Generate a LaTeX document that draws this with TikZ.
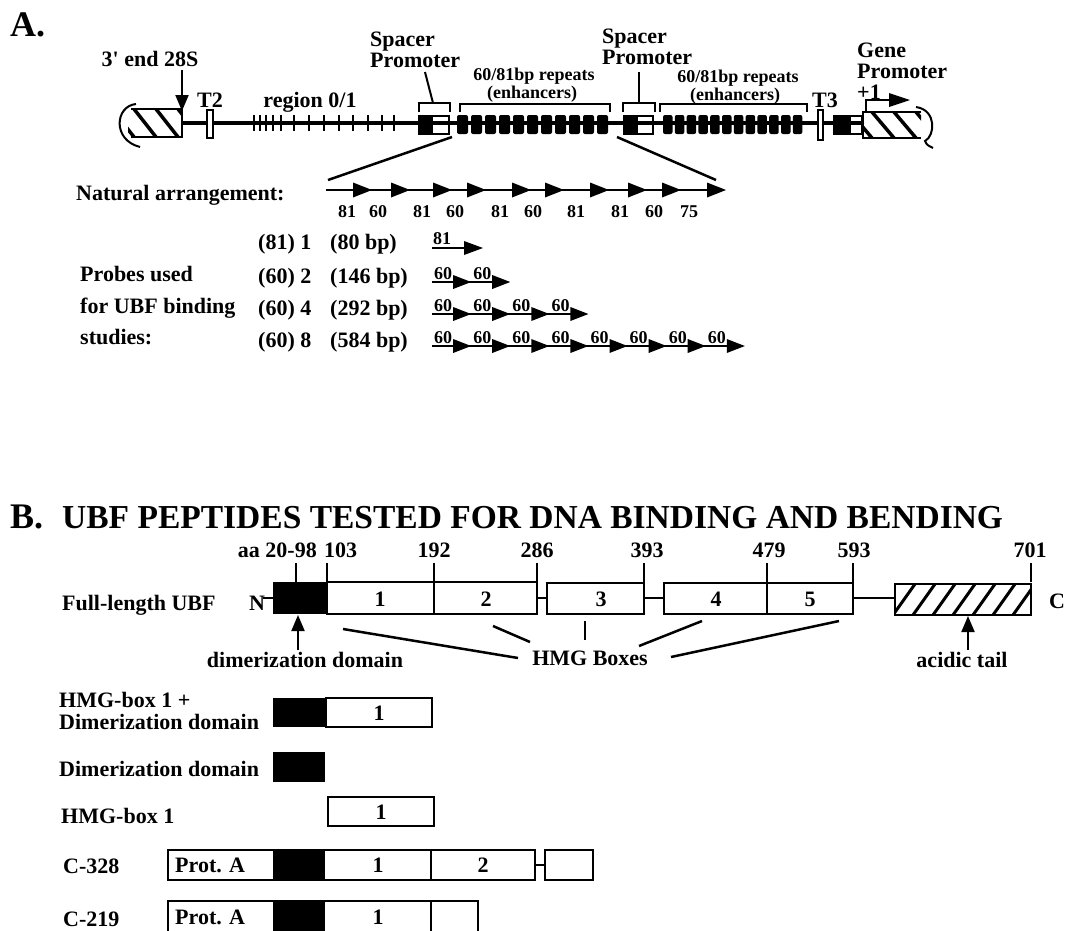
\documentclass[tikz,border=0pt]{standalone}
\usepackage{fontspec}
\setmainfont{Liberation Serif}
\usetikzlibrary{arrows.meta}
\tikzset{
  lbl/.style={inner sep=0pt, font=\fontsize{22}{24}\selectfont\bfseries},
  sml/.style={inner sep=0pt, font=\fontsize{18}{20}\selectfont\bfseries},
  num/.style={inner sep=0pt, font=\fontsize{18}{20}\selectfont\bfseries},
  ttl/.style={inner sep=0pt, font=\fontsize{33.5}{36}\selectfont\bfseries},
  big/.style={inner sep=0pt, font=\fontsize{36}{38}\selectfont\bfseries},
  ln/.style={line width=2.5pt},
  thin/.style={line width=2pt},
  dom/.style={draw, line width=2.5pt, fill=white},
  blk/.style={fill=black},
  stripe/.style={line width=3.5pt},
  ptr/.style={line width=2pt, -{Triangle[length=16pt,width=13pt]}},
}
\begin{document}
\begin{tikzpicture}[x=1pt,y=-1pt]
\useasboundingbox[fill=white] (0,0) rectangle (1065,930);

%================ A =================
\node[big, anchor=base west] (Alab) at (10,36) {A.};

% main line
\coordinate (mlL) at (182,123);
\coordinate (mlR) at (863,123);
\draw[line width=4pt] (mlL) -- (mlR);

% 3' end 28S hatched box
\begin{scope}
  \clip (128,109) rectangle (182,137);
  \foreach \s in {112,134,156,178} \draw[stripe] (\s,109) -- (\s+22,137);
\end{scope}
\draw[ln] (131,109) -- (182,109) -- (182,137) -- (131,137);
\draw[thin] (136,104) .. controls (115,106) and (112,140) .. (140,147);
\node[lbl, anchor=base] (end28) at (150,66) {3\textquotesingle\ end 28S};
\coordinate (end28t) at (182,70);
\coordinate (end28h) at (182,111);
\draw[ptr] (end28t) -- (end28h);

% T2
\draw[thin, fill=white] (207,110) rectangle (213,138);
\node[lbl, anchor=base] (T2) at (210,107) {T2};

% region 0/1
\node[lbl, anchor=base] (reg) at (310,107) {region 0/1};
\foreach \x in {254,260,266,273,281,294,309,324,339,353,368,382,394}
  \draw[line width=2.8pt] (\x,115) -- (\x,131);

% spacer promoter 1
\fill (419,116) rectangle (433,134);
\draw[ln] (419,116) rectangle (449,134);
\draw[thin] (419,112) -- (419,103) -- (450,103) -- (450,112);
\node[lbl, anchor=base west] (sp1a) at (370,46) {Spacer};
\node[lbl, anchor=base west] (sp1b) at (370,67) {Promoter};
\coordinate (sp1t) at (433,103);
\coordinate (sp1u) at (425,72);
\draw[thin] (sp1t) -- (sp1u);

% enhancers 1
\foreach \i in {0,...,10}
  \fill[rounded corners=2pt] ({457+\i*14},115) rectangle ({457+\i*14+11},134);
\draw[thin] (460,112) -- (460,104) -- (610,104) -- (610,112);
\node[sml, anchor=base] (en1a) at (534,80) {60/81bp repeats};
\node[sml, anchor=base] (en1b) at (532,98) {(enhancers)};

% spacer promoter 2
\fill (624,116) rectangle (638,134);
\draw[ln] (624,116) rectangle (653,134);
\draw[thin] (623,112) -- (623,103) -- (655,103) -- (655,112);
\node[lbl, anchor=base west] (sp2a) at (602,43) {Spacer};
\node[lbl, anchor=base west] (sp2b) at (602,64) {Promoter};
\coordinate (sp2t) at (639,103);
\coordinate (sp2u) at (639,72);
\draw[thin] (sp2t) -- (sp2u);

% enhancers 2
\foreach \i in {0,...,11}
  \fill[rounded corners=2pt] ({663+\i*11.8},115) rectangle ({663+\i*11.8+9.5},134);
\draw[thin] (660,112) -- (660,104) -- (807,104) -- (807,112);
\node[sml, anchor=base] (en2a) at (738,82) {60/81bp repeats};
\node[sml, anchor=base] (en2b) at (735,100) {(enhancers)};

% T3
\draw[thin, fill=white] (818,110) rectangle (823,140);
\node[lbl, anchor=base] (T3) at (825,107) {T3};

% gene promoter box
\fill (834,116) rectangle (851,134);
\draw[ln] (834,116) rectangle (862,134);

% gene hatched
\begin{scope}
  \clip (863,112) rectangle (921,138);
  \foreach \s in {850,872,894,916} \draw[stripe] (\s,112) -- (\s+22,138);
\end{scope}
\draw[ln] (921,112) -- (863,112) -- (863,138) -- (921,138);
\draw[thin] (916,107) .. controls (937,110) and (935,136) .. (925,141)
             .. controls (927,145) .. (933,148);

\node[lbl, anchor=base west] (gpa) at (857,57) {Gene};
\node[lbl, anchor=base west] (gpb) at (857,78) {Promoter};
\node[lbl, anchor=base west] (plus1) at (857,99) {+1};
\coordinate (tss0) at (866,112);
\coordinate (tss1) at (866,100);
\coordinate (tss2) at (910,100);
\draw[thin] (tss0) -- (tss1) -- (892,100);
\fill (tss2) -- (889,93) -- (889,107) -- cycle;

% expansion lines
\coordinate (exL1) at (452,137);
\coordinate (exL2) at (328,180);
\coordinate (exR1) at (617,137);
\coordinate (exR2) at (716,180);
\draw[line width=2.5pt] (exL1) -- (exL2);
\draw[line width=2.5pt] (exR1) -- (exR2);

% natural arrangement
\node[lbl, anchor=base west] (nat) at (76,200) {Natural arrangement:};
\coordinate (natS) at (326,190);
\coordinate (natE) at (716,190);
\draw[thin] (natS) -- (natE);
\foreach \t in {372,410,452,486,531,564,609,647,681,726}
  \fill (\t,190) -- (\t-19,182.5) -- (\t-19,197.5) -- cycle;
\foreach \x/\n in {347/81,378/60,422/81,455/60,500/81,533/60,576/81,620/81,654/60,689/75}
  \node[num, anchor=base] at (\x,217) {\n};

% probes
\node[lbl, anchor=base west] (pr1) at (80,281) {Probes used};
\node[lbl, anchor=base west] (pr2) at (80,313) {for UBF binding};
\node[lbl, anchor=base west] (pr3) at (80,344) {studies:};

\foreach \y/\a/\b in {249/(81) 1/(80 bp),283/(60) 2/(146 bp),315/(60) 4/(292 bp),347/(60) 8/(584 bp)}{
  \node[lbl, anchor=base west] at (258,\y) {\a};
  \node[lbl, anchor=base west] at (330,\y) {\b};
}
% row 1
\draw[thin] (432,248) -- (470,248);
\fill (483,248) -- (464,241) -- (464,255) -- cycle;
\node[num, anchor=base west] at (433,244) {81};
% rows 2-4
\foreach \y/\n in {282/2,314/4,346/8}{
  \pgfmathsetmacro{\xe}{432+39.1*\n}
  \draw[thin] (432,\y) -- (\xe-12,\y);
  \foreach \k in {1,...,\n}{
    \pgfmathsetmacro{\tp}{432+39.1*\k}
    \pgfmathsetmacro{\st}{432+39.1*(\k-1)}
    \fill (\tp,\y) -- (\tp-18,\y-7) -- (\tp-18,\y+7) -- cycle;
    \node[num, anchor=base west] at (\st+2,\y-3) {60};
  }
}

%================ B =================
\node[big, anchor=base west] (Blab) at (10,528) {B.};
\node[ttl, anchor=base west] (Bttl) at (62,528) {UBF PEPTIDES TESTED FOR DNA BINDING AND BENDING};

\node[lbl, anchor=base east] (n20) at (317,557) {aa 20-98};
\node[lbl, anchor=base west] (n103) at (324,557) {103};
\node[lbl, anchor=base] (n192) at (434,557) {192};
\node[lbl, anchor=base] (n286) at (537,557) {286};
\node[lbl, anchor=base] (n393) at (647,557) {393};
\node[lbl, anchor=base] (n479) at (769,557) {479};
\node[lbl, anchor=base] (n593) at (854,557) {593};
\node[lbl, anchor=base] (n701) at (1030,557) {701};
\foreach \x in {296,327,434,537,644,767,853,1031}
  \draw[thin] (\x,563) -- (\x,582);

\node[lbl, anchor=base west] (fl) at (62,610) {Full-length UBF};
\node[lbl, anchor=base west] (Nt) at (249,610) {N};
\draw[thin] (263,598) -- (273,598);
\fill (273,582) rectangle (326,614);
\draw[dom] (327,582) rectangle (537,614);
\draw[ln] (434,582) -- (434,614);
\node[lbl, anchor=base] at (380,606) {1};
\node[lbl, anchor=base] at (486,606) {2};
\draw[thin] (537,598) -- (547,598);
\draw[dom] (547,583) rectangle (644,614);
\node[lbl, anchor=base] at (601,606) {3};
\draw[thin] (644,598) -- (664,598);
\draw[dom] (664,583) rectangle (853,614);
\draw[ln] (767,583) -- (767,614);
\node[lbl, anchor=base] (b4) at (716,606) {4};
\node[lbl, anchor=base] (b5) at (810,606) {5};
\draw[thin] (853,598) -- (895,598);
\begin{scope}
  \clip (895,584) rectangle (1031,615);
  \foreach \s in {915,935,...,1055} \draw[line width=3pt] (\s,584) -- (\s-22,615);
\end{scope}
\draw[ln] (895,584) rectangle (1031,615);
\node[lbl, anchor=base west] (Ct) at (1049,608) {C};

% pointers
\coordinate (dimT) at (298,650);
\coordinate (dimH) at (298,615);
\draw[ptr] (dimT) -- (dimH);
\node[lbl, anchor=base] (dimlbl) at (305,667) {dimerization domain};
\coordinate (acT) at (968,650);
\coordinate (acH) at (968,616);
\draw[ptr] (acT) -- (acH);
\node[lbl, anchor=base] (aclbl) at (962,667) {acidic tail};
\node[lbl, anchor=base] (hmg) at (590,665) {HMG Boxes};
\draw[ln] (343,629) -- (518,658);
\draw[ln] (493,626) -- (530,642);
\draw[ln] (585,621) -- (585,640);
\draw[ln] (639,646) -- (702,621);
\draw[ln] (671,657) -- (839,621);

% constructs
\node[lbl, anchor=base west] (r1a) at (59,707) {HMG-box 1 +};
\node[lbl, anchor=base west] (r1b) at (59,729) {Dimerization domain};
\fill (273,698) rectangle (326,727);
\draw[dom] (326,698) rectangle (432,727);
\node[lbl, anchor=base] at (379,720) {1};

\node[lbl, anchor=base west] (r2) at (59,776) {Dimerization domain};
\fill (273,752) rectangle (325,782);

\node[lbl, anchor=base west] (r3) at (61,823) {HMG-box 1};
\draw[dom] (328,797) rectangle (434,826);
\node[lbl, anchor=base] at (381,819) {1};

\node[lbl, anchor=base west] (r4) at (63,873) {C-328};
\draw[dom] (168,850) rectangle (535,880);
\fill (273,850) rectangle (325,880);
\draw[ln] (431,850) -- (431,880);
\draw[ln] (168,850) rectangle (535,880);
\node[lbl, anchor=base west] at (175,872) {Prot. A};
\node[lbl, anchor=base] at (378,872) {1};
\node[lbl, anchor=base] at (483,872) {2};
\draw[thin] (535,865) -- (545,865);
\draw[dom] (545,850) rectangle (593,880);

\node[lbl, anchor=base west] (r5) at (63,926) {C-219};
\begin{scope}
  \clip (0,0) rectangle (1065,930);
  \draw[dom] (168,901) rectangle (478,934);
  \fill (273,901) rectangle (325,934);
  \draw[ln] (431,901) -- (431,934);
  \draw[ln] (168,901) rectangle (478,934);
\end{scope}
\node[lbl, anchor=base west] at (175,924) {Prot. A};
\node[lbl, anchor=base] at (378,924) {1};
\end{tikzpicture}
\end{document}
